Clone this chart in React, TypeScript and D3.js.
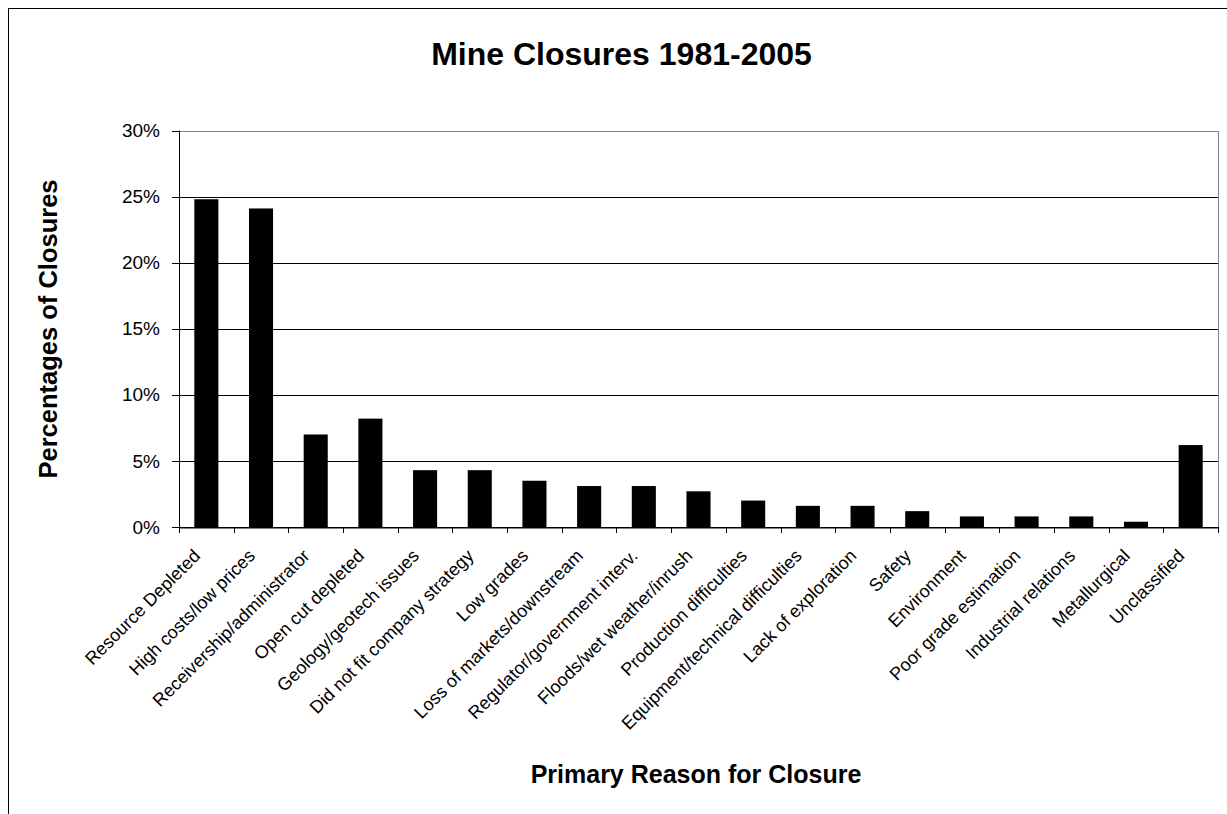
import React from "react";
import * as d3 from "d3";

// Closure reasons, in chart order
const reasons: string[] = [
  "Resource Depleted",
  "High costs/low prices",
  "Receivership/administrator",
  "Open cut depleted",
  "Geology/geotech issues",
  "Did not fit company strategy",
  "Low grades",
  "Loss of markets/downstream",
  "Regulator/government interv.",
  "Floods/wet weather/inrush",
  "Production difficulties",
  "Equipment/technical difficulties",
  "Lack of exploration",
  "Safety",
  "Environment",
  "Poor grade estimation",
  "Industrial relations",
  "Metallurgical",
  "Unclassified",
];

// Share of closures for each reason (fraction)
const shares: number[] = [
  0.248, 0.241, 0.070, 0.082, 0.043, 0.043, 0.035, 0.031, 0.031, 0.027,
  0.020, 0.016, 0.016, 0.012, 0.008, 0.008, 0.008, 0.004, 0.062,
];

const yTicks: number[] = [0, 0.05, 0.1, 0.15, 0.2, 0.25, 0.3];

const chartTitle = "Mine Closures 1981-2005";
const xTitle = "Primary Reason for Closure";
const yTitle = "Percentages of Closures";

const FONT = "'Liberation Sans', Arial, Helvetica, sans-serif";

export default function App() {
  const W = 1227;
  const H = 814;
  const plot = { left: 179, right: 1218, top: 130.5, bottom: 527 };

  const x = d3
    .scaleBand<string>()
    .domain(reasons)
    .range([plot.left, plot.right])
    .padding(0);
  const y = d3.scaleLinear().domain([0, 0.3]).range([plot.bottom, plot.top]);
  const barW = x.bandwidth() * 0.44;
  const pct = d3.format(".0%");
  const crisp = (v: number) => Math.round(v) + 0.5;

  return (
    <svg
      width={W}
      height={H}
      style={{ position: "fixed", left: 0, top: 0, background: "#fff" }}
      fontFamily={FONT}
    >
      {/* chart frame */}
      <rect x={8.5} y={8.5} width={1260} height={840} fill="#fff" stroke="#000" strokeWidth={1} />

      {/* title */}
      <text x={621.5} y={65} textAnchor="middle" fontSize={32} fontWeight="bold" fill="#000">
        {chartTitle}
      </text>

      {/* gridlines */}
      {yTicks.slice(1, -1).map((t) => (
        <line
          key={"g" + t}
          x1={plot.left}
          x2={plot.right}
          y1={crisp(y(t))}
          y2={crisp(y(t))}
          stroke="#000"
          strokeWidth={1}
        />
      ))}

      {/* plot area border */}
      <rect
        x={crisp(plot.left)}
        y={crisp(plot.top)}
        width={Math.round(plot.right - plot.left)}
        height={Math.round(plot.bottom - plot.top)}
        fill="none"
        stroke="#808080"
        strokeWidth={1}
      />

      {/* bars */}
      {reasons.map((r, i) => {
        const cx = (x(r) as number) + x.bandwidth() / 2;
        return (
          <rect
            key={r}
            x={cx - barW / 2}
            y={y(shares[i])}
            width={barW}
            height={plot.bottom - y(shares[i])}
            fill="#000"
          />
        );
      })}

      {/* y axis */}
      <line x1={crisp(plot.left)} x2={crisp(plot.left)} y1={plot.top} y2={plot.bottom} stroke="#000" />
      {yTicks.map((t) => (
        <g key={"y" + t}>
          <line x1={172} x2={plot.left} y1={crisp(y(t))} y2={crisp(y(t))} stroke="#000" />
          <text x={160} y={y(t)} dy="0.35em" textAnchor="end" fontSize={19} fill="#000">
            {pct(t)}
          </text>
        </g>
      ))}

      {/* x axis */}
      <line x1={plot.left} x2={plot.right + 1} y1={crisp(plot.bottom)} y2={crisp(plot.bottom)} stroke="#000" />
      {reasons.map((r) => (
        <line
          key={"t" + r}
          x1={crisp(x(r) as number)}
          x2={crisp(x(r) as number)}
          y1={plot.bottom}
          y2={plot.bottom + 6}
          stroke="#000"
        />
      ))}
      <line x1={crisp(plot.right)} x2={crisp(plot.right)} y1={plot.bottom} y2={plot.bottom + 6} stroke="#000" />
      {reasons.map((r) => {
        const cx = (x(r) as number) + x.bandwidth() / 2;
        return (
          <text
            key={"l" + r}
            transform={`translate(${cx - 5},557) rotate(-45)`}
            textAnchor="end"
            fontSize={18}
            fill="#000"
          >
            {r}
          </text>
        );
      })}

      {/* axis titles */}
      <text x={696} y={782.7} textAnchor="middle" fontSize={25} fontWeight="bold" fill="#000">
        {xTitle}
      </text>
      <text
        transform={`translate(56.7,329) rotate(-90)`}
        textAnchor="middle"
        fontSize={25.5}
        fontWeight="bold"
        fill="#000"
      >
        {yTitle}
      </text>
    </svg>
  );
}
